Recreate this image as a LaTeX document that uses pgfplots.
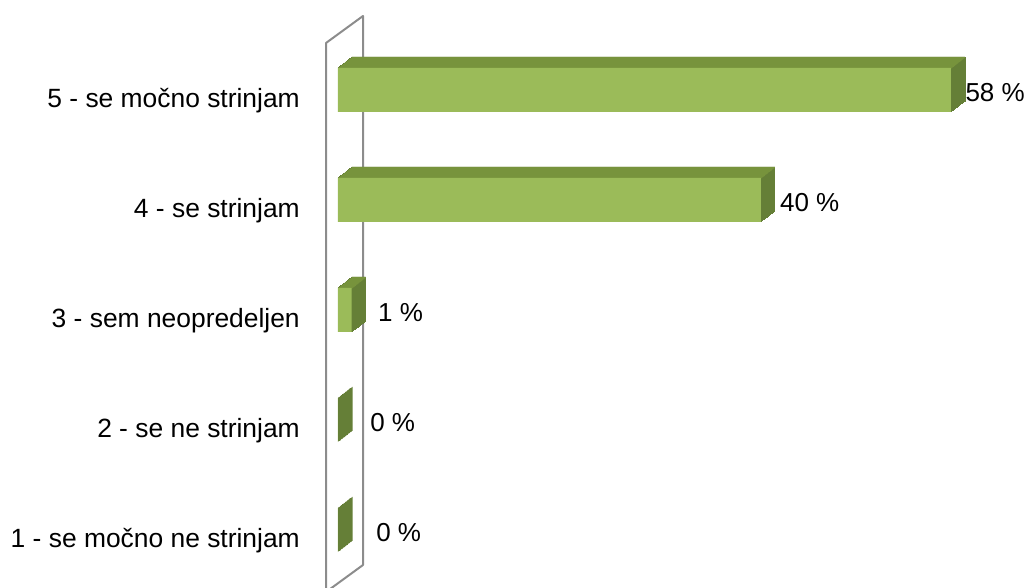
\documentclass[border=0pt]{standalone}
\usepackage{fontspec}
\setmainfont{Liberation Sans}
\usepackage{pgfplots}
\usepackage{pgfplotstable}
\pgfplotsset{compat=1.18}
\definecolor{frontcol}{HTML}{9BBB59}
\definecolor{topcol}{HTML}{77933C}
\definecolor{sidecol}{HTML}{657F37}
\definecolor{wallcol}{HTML}{8C8C8C}

\pgfplotstableread{
y v lx ly lab
5 58 59.35 4.973 {58 \%}
4 40 41.8 3.973 {40 \%}
3 1.3 3.78 2.973 {1 \%}
2 0 3.03 1.98 {0 \%}
1 0 3.6 0.98 {0 \%}
}\data

\begin{document}
\begin{tikzpicture}[x=0.75pt,y=0.75pt]
\useasboundingbox (0,0) rectangle (1026,588);
% back wall
\draw[wallcol, line width=1.5pt, line join=round]
  (326,-4) -- (326,545) -- (363,572) -- (363,23) -- cycle;
\begin{axis}[
  at={(253.5pt,2.25pt)}, anchor=south west,
  scale only axis, width=475.6pt, height=412.5pt,
  xmin=0, xmax=60, ymin=0.5, ymax=5.5,
  clip=false,
  axis line style={draw=none},
  tick style={draw=none},
  major tick length=0pt,
  xtick=\empty,
  ytick={1,2,3,4,5},
  yticklabels={1 - se močno ne strinjam, 2 - se ne strinjam, 3 - sem neopredeljen, 4 - se strinjam, 5 - se močno strinjam},
  yticklabel style={font=\fontsize{19.8}{23}\selectfont, anchor=east, inner sep=0pt, xshift=-28.5pt, yshift=-8.25pt},
]
% side (extrusion)
\pgfplotsinvokeforeach{1,...,20}{
  \addplot[xbar, bar width=33pt, bar shift=0pt, fill=sidecol, draw=sidecol, line width=0.6pt,
    xshift={#1*0.525pt}, yshift={#1*0.4125pt}, forget plot]
    table[x=v, y=y]{\data};
}
% top face
\pgfplotsinvokeforeach{1,...,20}{
  \addplot[xbar, bar width=0.8pt, bar shift=16.1pt, fill=topcol, draw=none,
    xshift={#1*0.525pt}, yshift={#1*0.4125pt}, forget plot,
    restrict x to domain=0.1:100]
    table[x=v, y=y]{\data};
}
% front face
\addplot[xbar, bar width=33pt, bar shift=0pt, fill=frontcol, draw=none, forget plot]
  table[x=v, y=y]{\data};
% value labels
\addplot[draw=none, mark=none, nodes near coords, point meta=explicit symbolic,
  every node near coord/.append style={anchor=west, inner sep=0pt, font=\fontsize{19.5}{23}\selectfont}]
  table[x=lx, y=ly, meta=lab]{\data};
\end{axis}
\end{tikzpicture}
\end{document}
